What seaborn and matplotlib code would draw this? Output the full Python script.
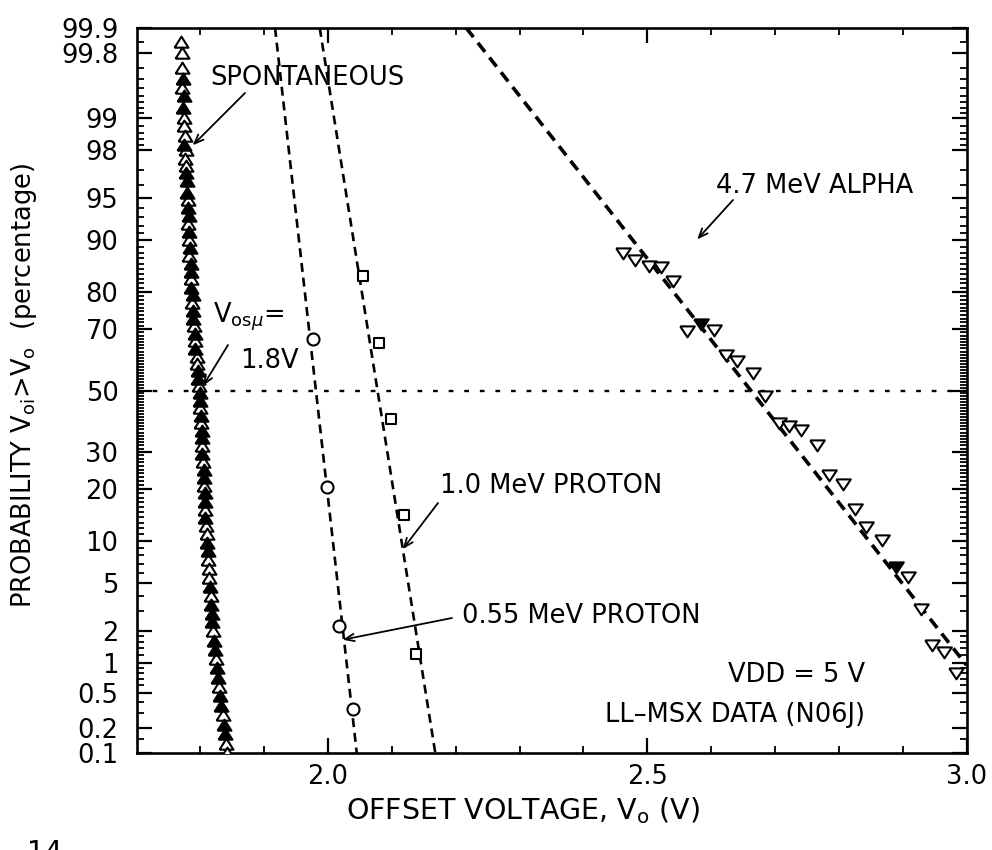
import math
import numpy as np
import matplotlib
matplotlib.use("Agg")
import matplotlib.pyplot as plt
import seaborn as sns

# ---------------- data: offset voltage (V) vs. probability V_oi > V_o (%) ----------------
spont_pct = [99.85, 99.8, 99.7, 99.6, 99.5, 99.4, 99.2, 99.0, 98.8, 98.5,
             98.2, 98.0, 97.6, 97.2, 96.8, 96.3, 95.4, 94.8, 94.0, 93.2,
             92.2, 91.2, 90.0, 88.8, 87.4, 86.0, 84.4, 82.8, 81.0, 79.2,
             77.2, 75.2, 73.0, 70.8, 68.5, 66.2, 63.8, 61.4, 59.0, 56.5,
             54.0, 51.5, 49.0, 46.5, 44.0, 41.5, 39.0, 36.6, 34.2, 31.8,
             29.5, 27.2, 25.0, 22.9, 20.9, 19.0, 17.2, 15.5, 13.9, 12.4,
             11.0, 9.7, 8.5, 7.4, 6.4, 5.5, 4.7, 4.0, 3.4, 2.85,
             2.4, 2.0, 1.65, 1.35, 1.1, 0.9, 0.72, 0.58, 0.46, 0.36,
             0.28, 0.22, 0.17, 0.13, 0.1]
spont_v = [1.770, 1.772, 1.771, 1.773, 1.772, 1.774, 1.773, 1.775, 1.774, 1.776,
           1.775, 1.777, 1.776, 1.778, 1.777, 1.779, 1.779, 1.781, 1.780, 1.782,
           1.781, 1.783, 1.782, 1.784, 1.783, 1.785, 1.785, 1.786, 1.786, 1.788,
           1.787, 1.789, 1.789, 1.790, 1.791, 1.792, 1.792, 1.794, 1.794, 1.796,
           1.797, 1.798, 1.799, 1.800, 1.800, 1.801, 1.801, 1.802, 1.802, 1.803,
           1.803, 1.804, 1.805, 1.805, 1.806, 1.807, 1.807, 1.808, 1.808, 1.809,
           1.810, 1.811, 1.812, 1.812, 1.813, 1.814, 1.815, 1.816, 1.817, 1.818,
           1.819, 1.820, 1.822, 1.823, 1.825, 1.826, 1.828, 1.829, 1.831, 1.833,
           1.835, 1.837, 1.838, 1.840, 1.842]
# 1 = solid triangle, 0 = open triangle
spont_solid = [0, 0, 0, 1, 0, 1, 1, 0, 0, 0,
               1, 0, 0, 0, 1, 1, 1, 0, 1, 1,
               0, 1, 0, 1, 0, 1, 1, 0, 1, 1,
               0, 1, 1, 0, 1, 0, 1, 0, 0, 1,
               1, 0, 1, 1, 0, 1, 0, 1, 1, 0,
               1, 0, 1, 1, 0, 1, 1, 0, 1, 0,
               0, 1, 1, 0, 0, 0, 1, 0, 1, 1,
               1, 0, 1, 1, 0, 1, 1, 0, 1, 1,
               0, 1, 1, 0, 0]

p055_pct = [66.9, 20.6, 2.24, 0.33]
p055_v = [1.976, 1.998, 2.017, 2.039]
p055_fit_pct = [99.9, 0.1]
p055_fit_v = [1.917, 2.045]

p10_pct = [83.6, 65.8, 40.4, 14.4, 1.24]
p10_v = [2.055, 2.080, 2.098, 2.119, 2.138]
p10_fit_pct = [99.9, 0.1]
p10_fit_v = [1.987, 2.168]

alpha_pct = [88.0, 86.7, 85.5, 85.3, 82.4, 69.4, 71.5, 69.7, 61.9, 60.0,
             56.0, 48.2, 39.2, 38.2, 36.7, 32.0, 23.5, 21.2, 15.6, 12.2,
             10.1, 6.6, 5.6, 3.1, 1.5, 1.3, 0.8]
alpha_v = [2.462, 2.480, 2.502, 2.521, 2.540, 2.562, 2.584, 2.605, 2.624, 2.641,
           2.665, 2.684, 2.706, 2.722, 2.741, 2.766, 2.785, 2.807, 2.826, 2.842,
           2.867, 2.889, 2.908, 2.929, 2.946, 2.965, 2.983]
alpha_solid = [0, 0, 0, 0, 0, 0, 1, 0, 0, 0,
               0, 0, 0, 0, 0, 0, 0, 0, 0, 0,
               0, 1, 0, 0, 0, 0, 0]
alpha_fit_pct = [99.9, 0.96]
alpha_fit_v = [2.2165, 3.0]

median_pct = 50

y_ticks = [0.1, 0.2, 0.5, 1, 2, 5, 10, 20, 30, 50, 70, 80, 90, 95, 98, 99, 99.8, 99.9]
y_tick_labels = ["0.1", "0.2", "0.5", "1", "2", "5", "10", "20", "30", "50",
                 "70", "80", "90", "95", "98", "99", "99.8", "99.9"]
x_ticks = [2.0, 2.5, 3.0]
x_tick_labels = ["2.0", "2.5", "3.0"]


# ---------------- normal-probability axis ----------------
_A = [-3.969683028665376e+01, 2.209460984245205e+02, -2.759285104469687e+02,
      1.383577518672690e+02, -3.066479806614716e+01, 2.506628277459239e+00]
_B = [-5.447609879822406e+01, 1.615858368580409e+02, -1.556989798598866e+02,
      6.680131188771972e+01, -1.328068155288572e+01]
_C = [-7.784894002430293e-03, -3.223964580411365e-01, -2.400758277161838e+00,
      -2.549732539343734e+00, 4.374664141464968e+00, 2.938163982698783e+00]
_D = [7.784695709041462e-03, 3.224671290700398e-01, 2.445134137142996e+00,
      3.754408661907416e+00]


def _norm_ppf(q):
    q = np.clip(np.asarray(q, dtype=float), 1e-12, 1 - 1e-12)
    out = np.zeros_like(q)
    plow = 0.02425
    lo = q < plow
    hi = q > 1 - plow
    mid = ~(lo | hi)
    r = q[mid] - 0.5
    t = r * r
    num = (((((_A[0] * t + _A[1]) * t + _A[2]) * t + _A[3]) * t + _A[4]) * t + _A[5]) * r
    den = ((((_B[0] * t + _B[1]) * t + _B[2]) * t + _B[3]) * t + _B[4]) * t + 1
    out[mid] = num / den
    for mask, sign, qq in ((lo, 1.0, q[lo]), (hi, -1.0, 1 - q[hi])):
        t = np.sqrt(-2 * np.log(qq))
        num = ((((_C[0] * t + _C[1]) * t + _C[2]) * t + _C[3]) * t + _C[4]) * t + _C[5]
        den = (((_D[0] * t + _D[1]) * t + _D[2]) * t + _D[3]) * t + 1
        out[mask] = sign * num / den
    return out


_erf = np.vectorize(math.erf, otypes=[float])


def pct_to_z(p):
    p = np.asarray(p, dtype=float)
    z = _norm_ppf(np.nan_to_num(p, nan=50.0) / 100.0)
    return np.where(np.isnan(p), np.nan, z)


def z_to_pct(z):
    z = np.asarray(z, dtype=float)
    return 50.0 * (1.0 + _erf(np.nan_to_num(z) / math.sqrt(2.0)))


# ---------------- figure ----------------
sns.set_theme(style="ticks")
plt.rcParams["font.family"] = ["DejaVu Sans"]
plt.rcParams["mathtext.fontset"] = "dejavusans"

W, H = 992, 850
fig = plt.figure(figsize=(W / 100, H / 100), dpi=100)
fig.patch.set_facecolor("white")
ax = fig.add_axes([136.5 / W, 1 - 753 / H, 830 / W, 725 / H])
ax.set_facecolor("white")
ax.set_yscale("function", functions=(pct_to_z, z_to_pct))

FS = 18.5


def px(x, y):
    return (x / W, 1 - y / H)


# fitted distribution lines
sns.lineplot(x=p055_fit_v, y=p055_fit_pct, ax=ax, sort=False, estimator=None,
             color="black", linewidth=1.9, linestyle=(0, (3.4, 2.2)), zorder=2)
sns.lineplot(x=p10_fit_v, y=p10_fit_pct, ax=ax, sort=False, estimator=None,
             color="black", linewidth=1.9, linestyle=(0, (3.4, 2.2)), zorder=2)
sns.lineplot(x=alpha_fit_v, y=alpha_fit_pct, ax=ax, sort=False, estimator=None,
             color="black", linewidth=2.6, linestyle=(0, (3.2, 2.0)), zorder=2)
ax.axhline(median_pct, color="black", linewidth=1.7, linestyle=(0, (2.0, 4.6)), zorder=2)

# measured points
tri_up = [(-1.0, -0.75), (1.0, -0.75), (0.0, 0.85), (-1.0, -0.75)]
tri_down = [(-1.0, 0.7), (1.0, 0.7), (0.0, -0.8), (-1.0, 0.7)]


def draw_points(xv, yv, solid, marker, size):
    xv, yv, solid = np.asarray(xv), np.asarray(yv), np.asarray(solid, dtype=bool)
    sns.scatterplot(x=xv[~solid], y=yv[~solid], ax=ax, marker=marker, s=size,
                    facecolor="white", edgecolor="black", linewidth=1.5, zorder=3)
    if solid.any():
        sns.scatterplot(x=xv[solid], y=yv[solid], ax=ax, marker=marker, s=size,
                        facecolor="black", edgecolor="black", linewidth=1.5, zorder=3)


draw_points(spont_v, spont_pct, spont_solid, tri_up, 100)
draw_points(alpha_v, alpha_pct, alpha_solid, tri_down, 110)
sns.scatterplot(x=p055_v, y=p055_pct, ax=ax, marker="o", s=75,
                facecolor="white", edgecolor="black", linewidth=1.5, zorder=3)
sns.scatterplot(x=p10_v, y=p10_pct, ax=ax, marker="s", s=60,
                facecolor="white", edgecolor="black", linewidth=1.5, zorder=3)

# axes, ticks
ax.set_xlim(1.7, 3.0)
ax.set_ylim(0.1, 99.9)
ax.set_xticks(x_ticks)
ax.set_xticklabels(x_tick_labels)
ax.set_xticks([1.8, 1.9, 2.1, 2.2, 2.3, 2.4, 2.6, 2.7, 2.8, 2.9], minor=True)
ax.set_yticks(y_ticks)
ax.set_yticklabels(y_tick_labels)
y_minor = ([0.15, 0.3, 0.4, 0.6, 0.7, 0.8, 0.9, 1.2, 1.4, 1.6, 1.8, 3, 4, 6, 7, 8, 9]
           + list(range(11, 20)) + list(range(21, 30)) + list(range(31, 50))
           + list(range(51, 70)) + list(range(71, 80)) + list(range(81, 90))
           + [91, 92, 93, 94, 96, 97, 98.2, 98.4, 98.6, 98.8,
              99.1, 99.2, 99.3, 99.4, 99.5, 99.6, 99.7, 99.85])
ax.set_yticks(y_minor, minor=True)
ax.yaxis.set_minor_formatter(matplotlib.ticker.NullFormatter())
ax.xaxis.set_minor_formatter(matplotlib.ticker.NullFormatter())

ax.tick_params(which="both", direction="in", top=True, right=True, color="black",
               labelcolor="black", labelsize=FS)
ax.tick_params(which="major", length=11, width=1.6)
ax.tick_params(which="minor", length=5, width=1.3)
ax.tick_params(axis="y", which="major", pad=13)
ax.tick_params(axis="x", which="major", pad=8)
for sp in ax.spines.values():
    sp.set_visible(True)
    sp.set_color("black")
    sp.set_linewidth(1.9)
ax.grid(False)

# axis titles
fig.text(*px(523, 819), r"OFFSET VOLTAGE, V$_{\mathrm{o}}$ (V)", fontsize=20.5,
         ha="center", va="baseline", color="black")
fig.text(*px(24, 385), r"PROBABILITY V$_{\mathrm{oi}}$>V$_{\mathrm{o}}$  (percentage)",
         fontsize=FS, rotation=90, ha="center", va="center", color="black")

# annotations
arrow = dict(arrowstyle="->,head_length=0.55,head_width=0.22", color="black",
             lw=1.3, shrinkA=0, shrinkB=0)


def note(label, text_px, tail_px, tip_data):
    fig.text(*px(*text_px), label, fontsize=FS, ha="left", va="baseline", color="black")
    ax.annotate("", xy=tip_data, xycoords="data", xytext=px(*tail_px),
                textcoords="figure fraction", arrowprops=arrow)


note("SPONTANEOUS", (210, 85), (245, 93), (1.788, 98.17))
note("4.7 MeV ALPHA", (716, 193), (733, 200), (2.578, 90.1))
note("1.0 MeV PROTON", (440, 493), (438, 503), (2.117, 8.8))
note("0.55 MeV PROTON", (462, 623), (452, 618), (2.023, 1.68))
note("1.8V", (240, 368), (228, 345), (1.804, 51.5))
fig.text(*px(213, 322), r"V$_{\mathrm{os}\mu}$=", fontsize=FS, ha="left", va="baseline",
         color="black")
fig.text(*px(728, 682), "VDD = 5 V", fontsize=FS, ha="left", va="baseline", color="black")
fig.text(*px(605, 722), "LL\u2013MSX DATA (N06J)", fontsize=FS, ha="left",
         va="baseline", color="black")
fig.text(*px(27, 861), "14", fontsize=20, ha="left", va="baseline", color="black")

fig.savefig("out.png", dpi=100, facecolor="white")
